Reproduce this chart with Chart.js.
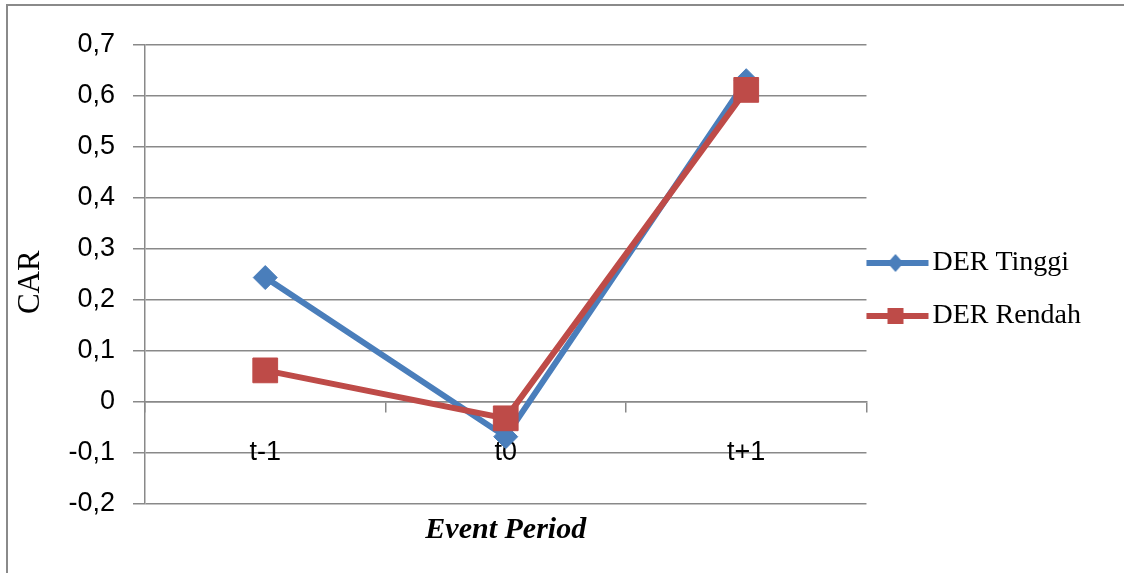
<!DOCTYPE html>
<html>
<head>
<meta charset="utf-8">
<title>CAR - Event Period</title>
<script src="https://cdn.jsdelivr.net/npm/chart.js@4.4.1/dist/chart.umd.min.js"></script>
<style>
    html, body { margin: 0; padding: 0; background: #ffffff; overflow: hidden; }
    #wrap { position: relative; width: 1124px; height: 573px; }
    #frame {
        position: absolute; left: 6px; top: 4px; width: 1200px; height: 700px;
        border: 2px solid #8a8a8a; pointer-events: none;
    }
</style>
</head>
<body>
<div id="wrap">
    <canvas id="lineChart" width="1124" height="573"></canvas>
    <div id="frame"></div>
</div>
<script>
// Chart data
const periods = ['t-1', 't0', 't+1'];
const derTinggi = [0.244, -0.068, 0.63];
const derRendah = [0.062, -0.032, 0.612];
const seriesNames = ['DER Tinggi', 'DER Rendah'];
const yTicks = { min: -0.2, max: 0.7, step: 0.1 };

const blue = '#4a7ebb';
const red = '#be4b48';
const gridGrey = '#898989';

// Legend symbol: a short line with the marker in the middle (like Excel)
function legendSymbol(color, shape) {
    const c = document.createElement('canvas');
    c.width = 85;
    c.height = 28;
    const g = c.getContext('2d');
    g.strokeStyle = color;
    g.fillStyle = color;
    g.lineWidth = 6;
    g.beginPath();
    g.moveTo(0, 14);
    g.lineTo(66, 14);
    g.stroke();
    if (shape === 'diamond') {
        g.beginPath();
        g.moveTo(33, 5);
        g.lineTo(41, 14);
        g.lineTo(33, 23);
        g.lineTo(25, 14);
        g.closePath();
        g.fill();
    } else {
        g.fillRect(25, 6, 16, 16);
    }
    return c;
}
const legendIcons = [legendSymbol(blue, 'diamond'), legendSymbol(red, 'square')];

function formatTick(value) {
    if (Math.abs(value) < 1e-9) return '0';
    return value.toFixed(1).replace('.', ',');
}

const ctx = document.getElementById('lineChart').getContext('2d');

const myChart = new Chart(ctx, {
    type: 'line',
    data: {
        labels: periods,
        datasets: [{
            label: seriesNames[0],
            data: derTinggi,
            borderColor: blue,
            backgroundColor: blue,
            borderWidth: 6,
            pointStyle: 'rectRot',
            pointRadius: 12,
            pointBorderWidth: 1,
            tension: 0,
            order: 1,
            xAxisID: 'x',
            yAxisID: 'y'
        }, {
            label: seriesNames[1],
            data: derRendah,
            borderColor: red,
            backgroundColor: red,
            borderWidth: 6,
            pointStyle: 'rect',
            pointRadius: 17.5,
            pointBorderWidth: 1,
            tension: 0,
            order: 0,
            xAxisID: 'x',
            yAxisID: 'y'
        }]
    },
    options: {
        responsive: false,
        animation: false,
        events: [],
        layout: {
            padding: { left: 8, top: 45, right: 33, bottom: 39 }
        },
        plugins: {
            tooltip: { enabled: false },
            legend: {
                position: 'right',
                labels: {
                    usePointStyle: true,
                    pointStyleWidth: 27,
                    padding: 25,
                    color: '#000000',
                    font: { family: 'Liberation Serif', size: 28 },
                    sort: (a, b) => a.datasetIndex - b.datasetIndex,
                    generateLabels: function(chart) {
                        const items = Chart.defaults.plugins.legend.labels.generateLabels(chart);
                        items.forEach(item => {
                            item.pointStyle = legendIcons[item.datasetIndex];
                        });
                        return items;
                    }
                }
            }
        },
        scales: {
            x: {
                type: 'category',
                position: { y: 0 },
                offset: true,
                grid: {
                    offset: true,
                    drawOnChartArea: false,
                    color: gridGrey,
                    lineWidth: 1.5,
                    tickLength: 10
                },
                border: { color: gridGrey, width: 1.5 },
                ticks: {
                    color: '#000000',
                    padding: 24,
                    font: { family: 'Liberation Sans', size: 27 }
                }
            },
            xTitle: {
                type: 'category',
                position: 'bottom',
                labels: periods,
                grid: { display: false },
                border: { display: false },
                ticks: { display: false },
                title: {
                    display: true,
                    text: 'Event Period',
                    color: '#000000',
                    padding: { top: 0, bottom: 1 },
                    font: { family: 'Liberation Serif', size: 30, style: 'italic', weight: 'bold', lineHeight: 0.2 }
                },
                afterFit: function(scale) {
                    scale.height = 30;
                }
            },
            y: {
                position: 'left',
                min: yTicks.min,
                max: yTicks.max,
                grid: {
                    color: gridGrey,
                    lineWidth: 1.5,
                    tickLength: 12
                },
                border: { color: gridGrey, width: 1.5 },
                ticks: {
                    stepSize: yTicks.step,
                    padding: 18,
                    color: '#000000',
                    font: { family: 'Liberation Sans', size: 27 },
                    callback: function(value) {
                        return formatTick(value);
                    }
                },
                title: {
                    display: true,
                    // trailing spaces nudge the rotated word a bit lower, as in the original
                    text: 'CAR  ',
                    color: '#000000',
                    padding: { top: 4, bottom: 0 },
                    font: { family: 'Liberation Serif', size: 31 }
                },
                afterFit: function(scale) {
                    scale.width = 137;
                }
            }
        }
    }
});
</script>
</body>
</html>
